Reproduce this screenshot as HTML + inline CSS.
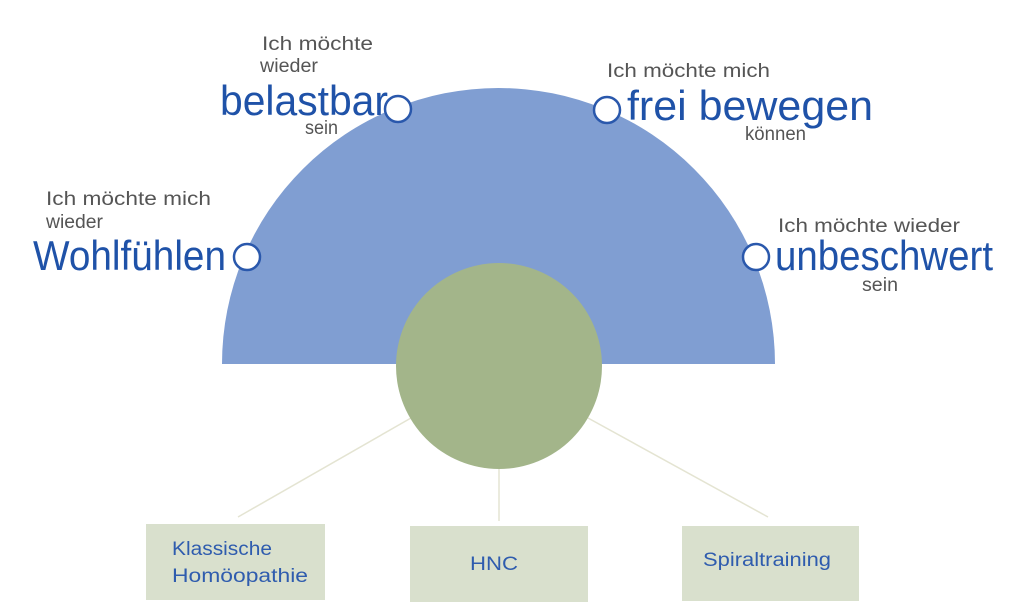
<!DOCTYPE html>
<html><head><meta charset="utf-8"><style>
html,body{margin:0;padding:0;background:#fff;width:1024px;height:614px;overflow:hidden}
svg{display:block}
.g{font-family:"Liberation Sans",sans-serif;fill:#555;font-size:19px;font-weight:300}
.b{font-family:"Liberation Sans",sans-serif;fill:#1f52a8;font-size:42px}
.t{font-family:"Liberation Sans",sans-serif;fill:#2f5cae;font-size:19px}
</style></head><body>
<svg width="1024" height="614" viewBox="0 0 1024 614">
<path d="M222 364 A276.5 276 0 0 1 775 364 Z" fill="#809ed2"/>
<line x1="411" y1="418" x2="238" y2="517" stroke="#e4e4d2" stroke-width="1.5"/>
<line x1="499" y1="468" x2="499" y2="521" stroke="#e4e4d2" stroke-width="1.5"/>
<line x1="588" y1="418" x2="768" y2="517" stroke="#e4e4d2" stroke-width="1.5"/>
<circle cx="499" cy="366" r="103" fill="#a3b58a"/>
<g fill="#fff" stroke="#2a58ac" stroke-width="2.5">
<circle cx="247" cy="257" r="13"/><circle cx="398" cy="109" r="13"/>
<circle cx="607" cy="110" r="13"/><circle cx="756" cy="257" r="13"/>
</g>
<rect x="146" y="524" width="179" height="76" fill="#d9e0cd"/>
<rect x="410" y="526" width="178" height="76" fill="#d9e0cd"/>
<rect x="682" y="526" width="177" height="75" fill="#d9e0cd"/>
<g lengthAdjust="spacingAndGlyphs">
<text class="t" x="172" y="555" textLength="100" lengthAdjust="spacingAndGlyphs">Klassische</text>
<text class="t" x="172" y="582" textLength="136" lengthAdjust="spacingAndGlyphs">Homöopathie</text>
<text class="t" x="470" y="570" textLength="48" lengthAdjust="spacingAndGlyphs">HNC</text>
<text class="t" x="703" y="566" textLength="128" lengthAdjust="spacingAndGlyphs">Spiraltraining</text>

<text class="g" x="262" y="50" textLength="111" lengthAdjust="spacingAndGlyphs">Ich möchte</text>
<text class="g" x="260" y="72" textLength="58" lengthAdjust="spacingAndGlyphs">wieder</text>
<text class="b" x="220" y="115" textLength="168" lengthAdjust="spacingAndGlyphs">belastbar</text>
<text class="g" x="305" y="134" textLength="33" lengthAdjust="spacingAndGlyphs">sein</text>

<text class="g" x="46" y="205" textLength="165" lengthAdjust="spacingAndGlyphs">Ich möchte mich</text>
<text class="g" x="46" y="228" textLength="57" lengthAdjust="spacingAndGlyphs">wieder</text>
<text class="b" x="33" y="270" textLength="193" lengthAdjust="spacingAndGlyphs">Wohlfühlen</text>

<text class="g" x="607" y="77" textLength="163" lengthAdjust="spacingAndGlyphs">Ich möchte mich</text>
<text class="b" x="627" y="120" textLength="246" lengthAdjust="spacingAndGlyphs">frei bewegen</text>
<text class="g" x="745" y="140" textLength="61" lengthAdjust="spacingAndGlyphs">können</text>

<text class="g" x="778" y="232" textLength="182" lengthAdjust="spacingAndGlyphs">Ich möchte wieder</text>
<text class="b" x="775" y="270" textLength="218" lengthAdjust="spacingAndGlyphs">unbeschwert</text>
<text class="g" x="862" y="291" textLength="36" lengthAdjust="spacingAndGlyphs">sein</text>
</g>
</svg>
</body></html>
